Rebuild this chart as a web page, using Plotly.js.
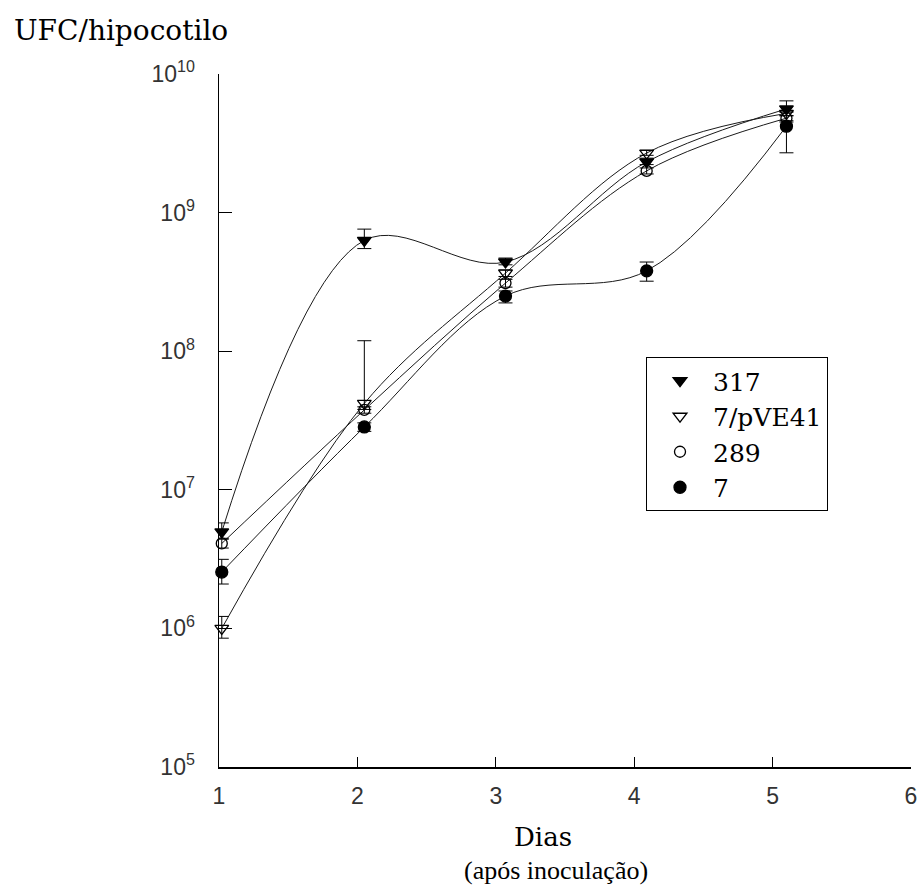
<!DOCTYPE html>
<html>
<head>
<meta charset="utf-8">
<script src="https://cdn.plot.ly/plotly-3.0.1.min.js"></script>
<style>
  html, body { margin: 0; padding: 0; background: #fff; }
  #chart { width: 921px; height: 890px; }
</style>
</head>
<body>
<div id="chart"></div>
<script>
// Days after inoculation (positions)
const days = [1.02, 2.05, 3.07, 4.09, 5.10];

// Series names
const seriesNames = ['317', '7/pVE41', '289', '7'];

// UFC/hipocotilo values
const v317    = [4.97e6, 6.3e8, 4.4e8, 2.32e9, 5.6e9];
const vPVE41  = [1.0e6, 4.2e7, 3.66e8, 2.69e9, 5.2e9];
const v289    = [4.1e6, 3.77e7, 3.1e8, 2.0e9, 4.8e9];
const v7      = [2.55e6, 2.84e7, 2.5e8, 3.8e8, 4.2e9];

// Error bars (upper / lower)
const e317Up   = [0.8e6, 1.3e8, 0.3e8, 0.15e9, 0.8e9];
const e317Dn   = [0.5e6, 0.8e8, 0.2e8, 0.1e9, 0.3e9];
const ePVE41Up = [0.22e6, 7.7e7, 0.2e8, 0.12e9, 0.2e9];
const ePVE41Dn = [0.15e6, 0.4e7, 0.2e8, 0.1e9, 0.2e9];
const e289Up   = [0.3e6, 0.2e7, 0.2e8, 0.1e9, 0.2e9];
const e289Dn   = [0.3e6, 0.2e7, 0.2e8, 0.1e9, 0.2e9];
const e7Up     = [0.6e6, 0.2e7, 0.22e8, 0.6e8, 0.3e9];
const e7Dn     = [0.46e6, 0.2e7, 0.27e8, 0.6e8, 1.5e9];

// Axis ticks
const xTicks = [1, 2, 3, 4, 5, 6];
const yTickVals = [1e5, 1e6, 1e7, 1e8, 1e9, 1e10];
const yTickText = ['10<sup>5</sup>', '10<sup>6</sup>', '10<sup>7</sup>', '10<sup>8</sup>', '10<sup>9</sup>', '10<sup>10</sup>'];

const values = [v317, vPVE41, v289, v7];
const errUp = [e317Up, ePVE41Up, e289Up, e7Up];
const errDn = [e317Dn, ePVE41Dn, e289Dn, e7Dn];
const symbols = ['triangle-down', 'triangle-down-open', 'circle-open', 'circle'];
const sizes = [12, 12, 11, 12];

const traces = [];
// smooth curves
values.forEach((v, i) => {
  traces.push({
    x: days, y: v, type: 'scatter', mode: 'lines',
    line: { shape: 'spline', smoothing: 1, color: '#1a1a1a', width: 1 },
    showlegend: false, hoverinfo: 'skip'
  });
});
// markers with error bars
values.forEach((v, i) => {
  traces.push({
    x: days, y: v, type: 'scatter', mode: 'markers', name: seriesNames[i],
    marker: { symbol: symbols[i], size: sizes[i], color: '#000', line: { color: '#000', width: 1.3 } },
    error_y: { type: 'data', array: errUp[i], arrayminus: errDn[i], visible: true, color: '#000', thickness: 1, width: 7 },
    cliponaxis: false
  });
});

const W = 921, H = 890;
const L = 219, R = 10, T = 74, B = 123;
const pw = W - L - R, ph = H - T - B;

const layout = {
  width: W, height: H,
  margin: { l: L, r: R, t: T, b: B },
  paper_bgcolor: '#fff', plot_bgcolor: '#fff',
  showlegend: true,
  title: {
    text: 'UFC/hipocotilo',
    font: { family: 'DejaVu Serif', size: 28, color: '#000' },
    xref: 'container', yref: 'container',
    x: 14 / W, xanchor: 'left', y: 1 - 30 / H, yanchor: 'middle'
  },
  xaxis: {
    range: [1, 6], tickvals: xTicks, ticktext: xTicks.map(String),
    showline: true, linecolor: '#000', linewidth: 1.5,
    ticks: 'inside', ticklen: 10, tickcolor: '#000', tickwidth: 1,
    showgrid: false, zeroline: false,
    tickfont: { family: 'Liberation Sans', size: 23, color: '#333' },
    ticklabelstandoff: 8
  },
  yaxis: {
    type: 'log', range: [5, 10], tickvals: yTickVals, ticktext: yTickText,
    showline: true, linecolor: '#000', linewidth: 1.5,
    ticks: 'inside', ticklen: 13, tickcolor: '#000', tickwidth: 1,
    showgrid: false, zeroline: false,
    tickfont: { family: 'Liberation Sans', size: 23, color: '#333' },
    ticklabelstandoff: 18
  },
  legend: {
    x: (646 - L) / pw, y: (H - B - 357) / ph, xanchor: 'left', yanchor: 'top',
    bordercolor: '#000', borderwidth: 1, bgcolor: 'rgba(255,255,255,0)',
    font: { family: 'DejaVu Serif', size: 25, color: '#000' },
    itemwidth: 56, tracegroupgap: 0
  },
  annotations: [
    {
      text: 'Dias', xref: 'paper', yref: 'paper',
      x: (543 - L) / pw, y: (H - B - 837) / ph, xanchor: 'center', yanchor: 'middle',
      showarrow: false, font: { family: 'DejaVu Serif', size: 26, color: '#000' }
    },
    {
      text: '(após inoculação)', xref: 'paper', yref: 'paper',
      x: (556 - L) / pw, y: (H - B - 870) / ph, xanchor: 'center', yanchor: 'middle',
      showarrow: false, font: { family: 'Liberation Serif', size: 26, color: '#000' }
    }
  ]
};

Plotly.newPlot('chart', traces, layout, { displayModeBar: false, staticPlot: true });
</script>
</body>
</html>
